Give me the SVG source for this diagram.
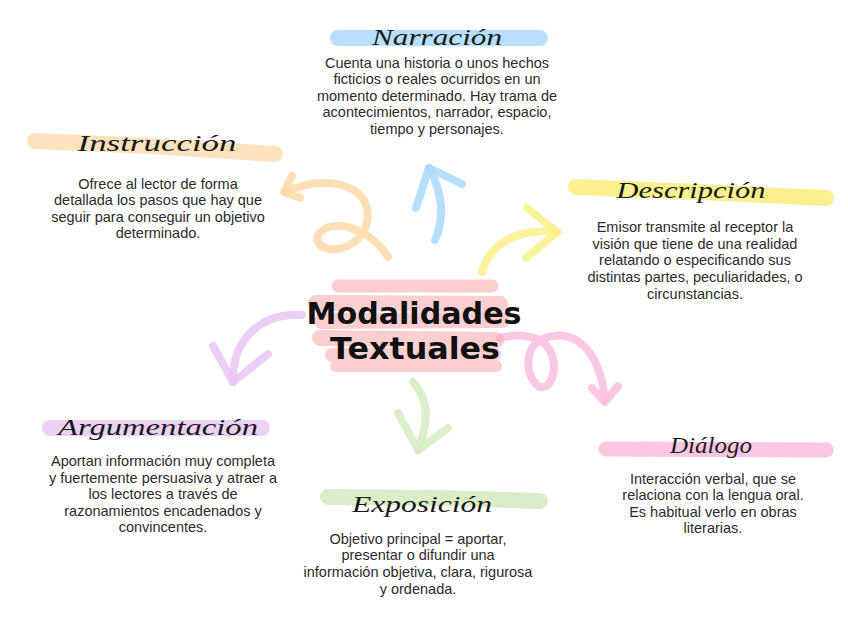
<svg xmlns="http://www.w3.org/2000/svg" width="848" height="636" viewBox="0 0 848 636">
  <style>
    .band { fill: none; stroke-linecap: round; stroke-linejoin: round; }
    .title { font-family: "Liberation Serif", "DejaVu Serif", serif; font-style: italic; font-size: 24px; fill: #1a1a1a; text-anchor: middle; }
    .body { font-family: "Liberation Sans", "Arial", sans-serif; font-size: 14.5px; fill: #2b2b2b; text-anchor: middle; }
    .central { font-family: "DejaVu Sans", "Liberation Sans", sans-serif; font-weight: bold; font-size: 30px; fill: #111; text-anchor: middle; }
    .arrow { fill: none; stroke-width: 8; stroke-linecap: round; stroke-linejoin: round; opacity: 0.85; }
  </style>
  <rect width="848" height="636" fill="#ffffff"/>

  <g id="connectors">
    <g id="arrow-instruccion" stroke="#fcd9a8">
      <path class="arrow" d="M388,257 C375,235 345,220 326,228 C310,236 318,252 338,249 C360,245 372,225 366,205 C358,182 320,176 285,192"/>
      <path class="arrow" d="M292,176 L284,192 L300,198"/>
    </g>
    <g id="arrow-narracion" stroke="#a9d9fb">
      <path class="arrow" d="M435,240 C446,215 441,190 429,168"/>
      <path class="arrow" d="M416,208 L429,168 L462,184"/>
    </g>
    <g id="arrow-descripcion" stroke="#faf08a">
      <path class="arrow" d="M482,272 C490,242 520,228 557,232"/>
      <path class="arrow" d="M527,208 L557,232 L526,258"/>
    </g>
    <g id="arrow-argumentacion" stroke="#e6c6f4">
      <path class="arrow" d="M302,315 C265,313 232,335 233,382"/>
      <path class="arrow" d="M213,346 L233,382 L268,354"/>
    </g>
    <g id="arrow-dialogo" stroke="#f9bde2">
      <path class="arrow" d="M500,338 C520,333 545,335 552,355 C558,375 548,392 538,386 C525,376 523,345 545,338 C575,328 600,350 605,400"/>
      <path class="arrow" d="M592,388 L605,402 L618,386"/>
    </g>
    <g id="arrow-exposicion" stroke="#d3ecc3">
      <path class="arrow" d="M413,382 C430,400 428,425 418,450"/>
      <path class="arrow" d="M398,413 L418,450 L448,428"/>
    </g>
  </g>

  <g id="central">
    <g opacity="0.55" stroke="#f9a9ab">
      <path class="band" stroke-width="13" d="M338,286 L492,286"/>
      <path class="band" stroke-width="16" d="M316,303 L500,304"/>
      <path class="band" stroke-width="16" d="M322,321 L502,320"/>
      <path class="band" stroke-width="16" d="M320,338 L496,340"/>
      <path class="band" stroke-width="14" d="M332,355 L494,354"/>
      <path class="band" stroke-width="12" d="M336,366 L496,366"/>
    </g>
    <text class="central" x="414" y="324" textLength="215" lengthAdjust="spacingAndGlyphs">Modalidades</text>
    <text class="central" x="415" y="359" textLength="170" lengthAdjust="spacingAndGlyphs">Textuales</text>
  </g>

  <g id="narracion">
    <path class="band" stroke="#b6e0fb" stroke-width="16" d="M338,38 L540,38"/>
    <text class="title" x="437" y="45" textLength="130" lengthAdjust="spacingAndGlyphs">Narración</text>
    <text class="body" x="437" y="68">Cuenta una historia o unos hechos</text>
    <text class="body" x="437" y="84">ficticios o reales ocurridos en un</text>
    <text class="body" x="437" y="101">momento determinado. Hay trama de</text>
    <text class="body" x="437" y="117">acontecimientos, narrador, espacio,</text>
    <text class="body" x="437" y="134">tiempo y personajes.</text>
  </g>

  <g id="instruccion">
    <path class="band" stroke="#fde3bd" stroke-width="16" d="M35,141 L150,146 L275,154"/>
    <text class="title" x="157" y="151" textLength="159" lengthAdjust="spacingAndGlyphs">Instrucción</text>
    <text class="body" x="158" y="189">Ofrece al lector de forma</text>
    <text class="body" x="158" y="205">detallada los pasos que hay que</text>
    <text class="body" x="158" y="222">seguir para conseguir un objetivo</text>
    <text class="body" x="158" y="238">determinado.</text>
  </g>

  <g id="descripcion">
    <path class="band" stroke="#faf08f" stroke-width="16" d="M576,187 L700,192 L826,198"/>
    <text class="title" x="691" y="198" textLength="149" lengthAdjust="spacingAndGlyphs">Descripción</text>
    <text class="body" x="695" y="232">Emisor transmite al receptor la</text>
    <text class="body" x="695" y="249">visión que tiene de una realidad</text>
    <text class="body" x="695" y="265">relatando o especificando sus</text>
    <text class="body" x="695" y="282">distintas partes, peculiaridades, o</text>
    <text class="body" x="695" y="299">circunstancias.</text>
  </g>

  <g id="argumentacion">
    <path class="band" stroke="#ead2f3" stroke-width="16" d="M50,428 L262,428"/>
    <text class="title" x="158" y="435" textLength="200" lengthAdjust="spacingAndGlyphs">Argumentación</text>
    <text class="body" x="163" y="466">Aportan información muy completa</text>
    <text class="body" x="163" y="483">y fuertemente persuasiva y atraer a</text>
    <text class="body" x="163" y="499">los lectores a través de</text>
    <text class="body" x="163" y="516">razonamientos encadenados y</text>
    <text class="body" x="163" y="532">convincentes.</text>
  </g>

  <g id="exposicion">
    <path class="band" stroke="#d8edc8" stroke-width="16" d="M328,497 L440,498 L540,501"/>
    <text class="title" x="422" y="512" textLength="140" lengthAdjust="spacingAndGlyphs">Exposición</text>
    <text class="body" x="418" y="544">Objetivo principal = aportar,</text>
    <text class="body" x="418" y="560">presentar o difundir una</text>
    <text class="body" x="418" y="577">información objetiva, clara, rigurosa</text>
    <text class="body" x="418" y="594">y ordenada.</text>
  </g>

  <g id="dialogo">
    <path class="band" stroke="#fac6e4" stroke-width="15" d="M606,449 L826,450"/>
    <text class="title" x="711" y="453" textLength="82" lengthAdjust="spacingAndGlyphs">Diálogo</text>
    <text class="body" x="713" y="484">Interacción verbal, que se</text>
    <text class="body" x="713" y="500">relaciona con la lengua oral.</text>
    <text class="body" x="713" y="517">Es habitual verlo en obras</text>
    <text class="body" x="713" y="533">literarias.</text>
  </g>
</svg>
